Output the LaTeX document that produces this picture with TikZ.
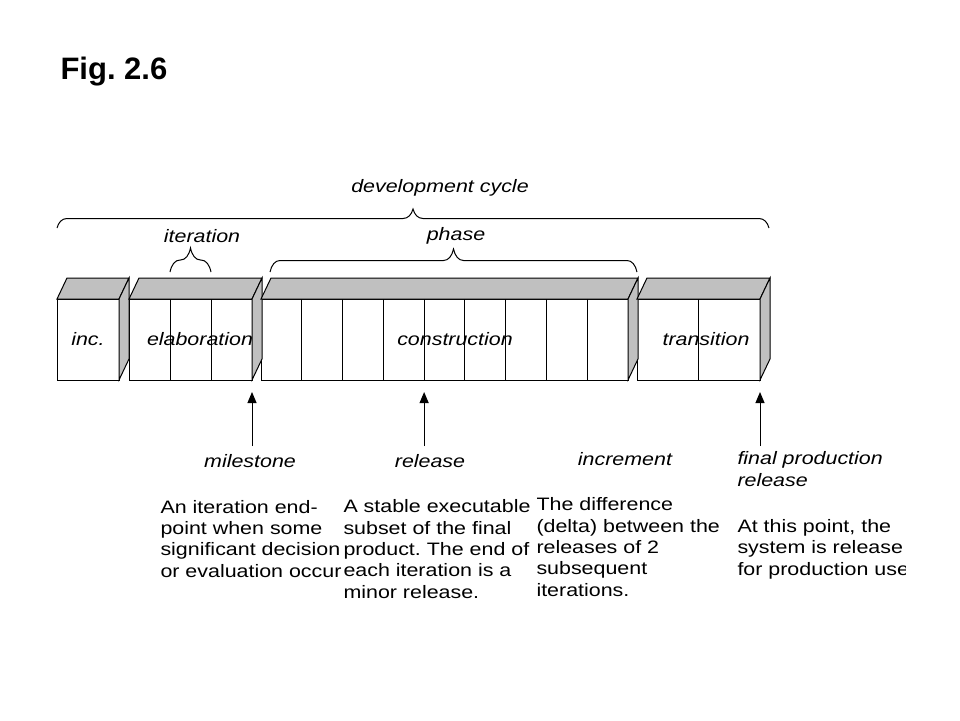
\documentclass[tikz,border=0pt]{standalone}
\usepackage{fontspec}
\setmainfont{Liberation Sans}
\newfontfamily\wide{Liberation Sans}[FakeStretch=1.19]
\usetikzlibrary{calc,positioning,decorations.pathreplacing,arrows.meta}
\definecolor{boxgray}{RGB}{192,192,192}
\frenchspacing

\begin{document}
\begin{tikzpicture}[x=1pt, y=-1pt, line width=1pt,
	font=\wide\fontsize{18}{21.3}\selectfont,
	blk/.style={draw, fill=white, inner sep=0, outer sep=0, minimum height=81pt},
	lbl/.style={font=\wide\itshape\fontsize{18}{21.3}\selectfont, anchor=base, inner sep=0},
	txt/.style={align=left, anchor=base west, inner sep=0},
	brc/.style={decorate, decoration={brace, amplitude=10pt, transform={yscale=#1}}},
	up/.style={-{Triangle[length=11pt,width=9pt]}}]
\useasboundingbox (0,0) rectangle (960,720);
\node[anchor=base west, inner sep=0, font=\normalfont\bfseries\fontsize{31}{36}\selectfont] (fig) at (60,79) {Fig. 2.6};
% blocks
\node[blk, minimum width=62pt] (inc) at (88,339.5) {};
\node[blk, minimum width=123pt] (elab) at (190.5,339.5) {};
\node[blk, minimum width=367pt] (cons) at (444.5,339.5) {};
\node[blk, minimum width=123pt] (trans) at (698.5,339.5) {};
\foreach \b/\w in {inc/62, elab/123, cons/367, trans/123}{
	\draw[fill=boxgray] (\b.north west) -- ++(10,-21) -- ++(\w,0) -- (\b.north east) -- cycle;
	\draw[fill=boxgray] (\b.north east) -- ++(10,-21) -- ++(0,81) -- (\b.south east) -- cycle;
}
\foreach \i in {1,2}
	\draw ($(elab.north west)!\i/3!(elab.north east)$) -- ($(elab.south west)!\i/3!(elab.south east)$);
\foreach \i in {1,...,8}
	\draw ($(cons.north west)!\i/9!(cons.north east)$) -- ($(cons.south west)!\i/9!(cons.south east)$);
\draw (trans.north) -- (trans.south);
\node[lbl] (incl) at (88,345) {inc.};
\node[lbl] (elabl) at (200,345) {elaboration};
\node[lbl] (consl) at (455,345) {construction};
\node[lbl] (transl) at (706,345) {transition};
% braces
\coordinate (dcA) at (57,228);
\coordinate (dcB) at (769,228);
\coordinate (itA) at (170,272);
\coordinate (itB) at (211,272);
\coordinate (phA) at (270,272);
\coordinate (phB) at (637,272);
\draw[brc=1.9] (dcA) -- (dcB);
\draw[brc=2.4] (itA) -- (itB);
\draw[brc=2.3] (phA) -- (phB);
\node[lbl] (dc) at (440,192) {development cycle};
\node[lbl] (it) at (202,242) {iteration};
\node[lbl] (ph) at (456,240) {phase};
% arrows
\coordinate (msA) at ($(elab.south east)+(0,66)$);
\coordinate (relA) at ($(cons.south west)!4/9!(cons.south east)+(0,66)$);
\coordinate (fprA) at ($(trans.south east)+(0,66)$);
\draw[up] (msA) -- ($(elab.south east)+(0,12)$);
\draw[up] (relA) -- ($(cons.south west)!4/9!(cons.south east)+(0,12)$);
\draw[up] (fprA) -- ($(trans.south east)+(0,12)$);
% texts (base = last line)
\node[lbl] (ms) at (250,467) {milestone};
\node[lbl] (rel) at (430,467) {release};
\node[lbl] (incr) at (625,465) {increment};
\node[lbl, anchor=base west, align=left] (fpr) at (737,486) {final production\\release};
\node[txt] (msT) at (160,577) {An iteration end-\\point when some\\significant decision\\or evaluation occur};
\node[txt] (relT) at (343,598) {A stable executable\\subset of the final\\product. The end of\\each iteration is a\\minor release.};
\node[txt] (incrT) at (536,596) {The difference\\(delta) between the\\releases of 2\\subsequent\\iterations.};
\begin{scope}
\clip (730,500) rectangle (905,600);
\node[txt] (fprT) at (737,575) {At this point, the\\system is release\\for production use};
\end{scope}
\end{tikzpicture}
\end{document}
